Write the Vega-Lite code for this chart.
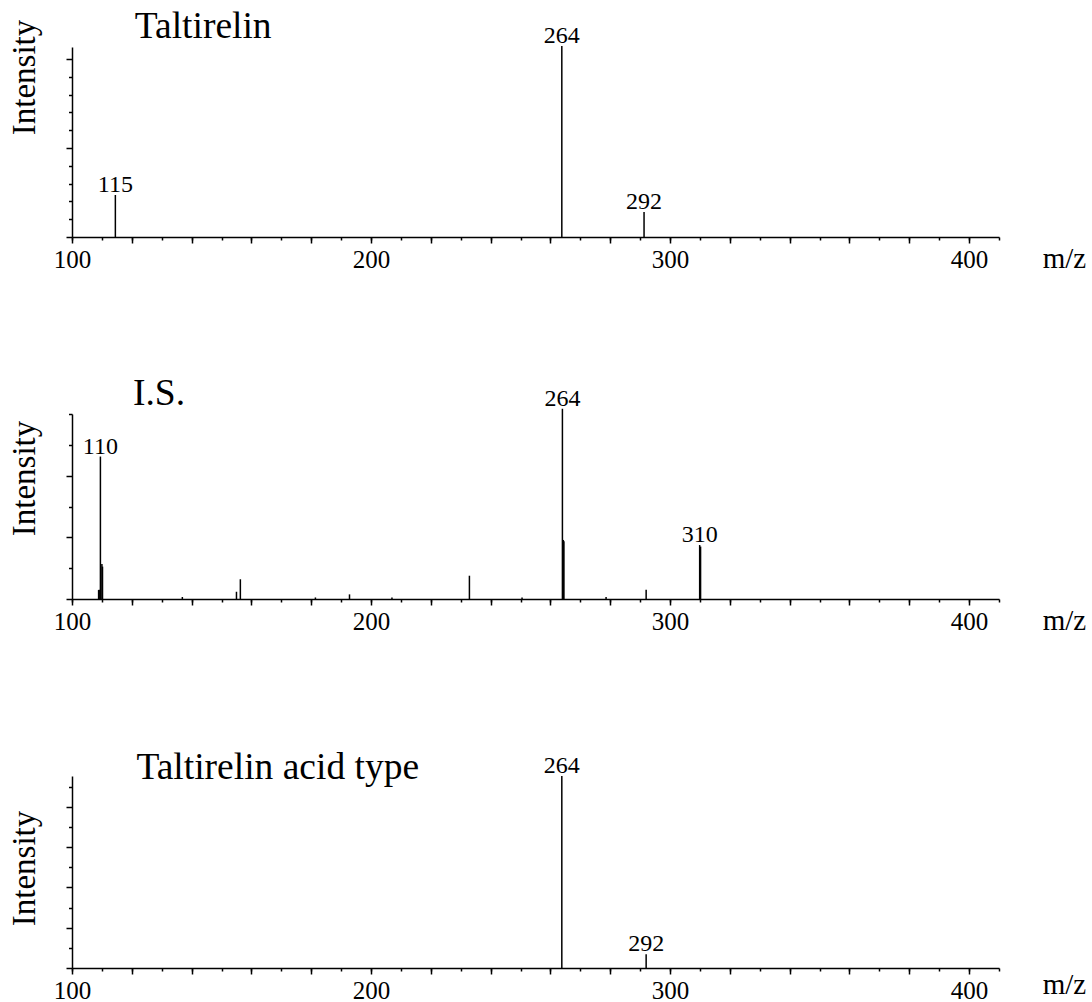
{
  "$schema": "https://vega.github.io/schema/vega-lite/v6.json",
  "background": "white",
  "padding": {"left": 8, "top": 8, "right": 0, "bottom": 0},
  "bounds": "flush",
  "spacing": 177,
  "datasets": {
    "peaks": [
      {"panel": "A", "mz": 114.5, "intensity": 23.6, "label": "115"},
      {"panel": "A", "mz": 263.8, "intensity": 107.3, "label": "264"},
      {"panel": "A", "mz": 291.3, "intensity": 14, "label": "292"},
      {"panel": "B", "mz": 108.9, "intensity": 5.8, "label": ""},
      {"panel": "B", "mz": 109.1, "intensity": 6, "label": ""},
      {"panel": "B", "mz": 109.5, "intensity": 92.4, "label": "110"},
      {"panel": "B", "mz": 110.0, "intensity": 22.7, "label": ""},
      {"panel": "B", "mz": 110.2, "intensity": 21, "label": ""},
      {"panel": "B", "mz": 136.9, "intensity": 1.3, "label": ""},
      {"panel": "B", "mz": 155.0, "intensity": 4.7, "label": ""},
      {"panel": "B", "mz": 156.3, "intensity": 12.8, "label": ""},
      {"panel": "B", "mz": 181.4, "intensity": 1, "label": ""},
      {"panel": "B", "mz": 192.8, "intensity": 3, "label": ""},
      {"panel": "B", "mz": 207.0, "intensity": 1, "label": ""},
      {"panel": "B", "mz": 232.9, "intensity": 15.1, "label": ""},
      {"panel": "B", "mz": 250.5, "intensity": 1, "label": ""},
      {"panel": "B", "mz": 264.0, "intensity": 123.4, "label": "264"},
      {"panel": "B", "mz": 264.3, "intensity": 38.3, "label": ""},
      {"panel": "B", "mz": 264.5, "intensity": 37.5, "label": ""},
      {"panel": "B", "mz": 278.6, "intensity": 1.3, "label": ""},
      {"panel": "B", "mz": 292.0, "intensity": 6, "label": ""},
      {"panel": "B", "mz": 309.9, "intensity": 35, "label": "310"},
      {"panel": "B", "mz": 310.2, "intensity": 34, "label": ""},
      {"panel": "C", "mz": 263.8, "intensity": 95.4, "label": "264"},
      {"panel": "C", "mz": 292.0, "intensity": 6.8, "label": "292"}
    ]
  },
  "config": {
    "view": {"stroke": null},
    "font": "Liberation Serif",
    "axis": {
      "domainColor": "black",
      "domainWidth": 1.5,
      "tickColor": "black",
      "tickWidth": 1.5,
      "grid": false,
      "labelFont": "Liberation Serif",
      "labelColor": "black",
      "titleFont": "Liberation Serif",
      "titleColor": "black",
      "titleFontWeight": "normal"
    },
    "text": {"font": "Liberation Serif", "fontSize": 24, "color": "black", "baseline": "alphabetic", "dy": -3}
  },
  "vconcat": [
    {
      "width": 927,
      "height": 190,
      "title": {"text": "Taltirelin", "anchor": "start", "frame": "group", "orient": "none", "dx": 62.7, "dy": -8.7, "baseline": "alphabetic", "fontSize": 37.5, "font": "Liberation Serif", "fontWeight": "normal", "color": "black"},
      "data": {"name": "peaks"},
      "transform": [{"filter": "datum.panel === 'A'"}],
      "resolve": {"axis": {"x": "independent", "y": "independent"}},
      "layer": [
        {
          "mark": {"type": "rule", "color": "black", "strokeWidth": 1.5},
          "encoding": {
            "x": {"field": "mz", "type": "quantitative", "scale": {"domain": [100, 410], "nice": false, "zero": false},
                  "axis": {"orient": "bottom", "values": [100,120,140,160,180,200,220,240,260,280,300,320,340,360,380,400], "labelExpr": "datum.value % 100 === 0 ? datum.label : ''", "tickSize": 6, "labelPadding": 4, "labelFontSize": 25, "labelFlush": false, "labelOverlap": false, "title": "m/z", "titleFontSize": 29, "titleX": 992, "titleY": 30, "titleAlign": "center", "titleBaseline": "alphabetic", "titleAnchor": null}},
            "y": {"field": "intensity", "type": "quantitative", "scale": {"domain": [0, 106.7], "nice": false},
                  "axis": {"orient": "left", "values": [0, 50, 100], "labels": false, "tickSize": 6, "title": "Intensity", "titleFontSize": 33, "titleAngle": -90, "titleX": -38, "titleY": 30, "titleAlign": "center", "titleBaseline": "alphabetic", "titleAnchor": null}},
            "y2": {"datum": 0}
          }
        },
        {
          "transform": [{"filter": "datum.label != ''"}],
          "mark": {"type": "text"},
          "encoding": {
            "x": {"field": "mz", "type": "quantitative", "scale": {"domain": [100, 410], "nice": false, "zero": false},
                  "axis": {"orient": "bottom", "values": [100,110,120,130,140,150,160,170,180,190,200,210,220,230,240,250,260,270,280,290,300,310,320,330,340,350,360,370,380,390,400,410], "labels": false, "domain": false, "tickSize": 3, "title": null}},
            "y": {"field": "intensity", "type": "quantitative", "scale": {"domain": [0, 106.7], "nice": false},
                  "axis": {"orient": "left", "values": [10,20,30,40,60,70,80,90], "labels": false, "domain": false, "tickSize": 3.5, "title": null}},
            "text": {"field": "label"}
          }
        }
      ]
    },
    {
      "width": 927,
      "height": 185,
      "title": {"text": "I.S.", "anchor": "start", "frame": "group", "orient": "none", "dx": 61, "dy": -9, "baseline": "alphabetic", "fontSize": 37.5, "font": "Liberation Serif", "fontWeight": "normal", "color": "black"},
      "data": {"name": "peaks"},
      "transform": [{"filter": "datum.panel === 'B'"}],
      "resolve": {"axis": {"x": "independent", "y": "independent"}},
      "layer": [
        {
          "mark": {"type": "rule", "color": "black", "strokeWidth": 1.5},
          "encoding": {
            "x": {"field": "mz", "type": "quantitative", "scale": {"domain": [100, 410], "nice": false, "zero": false},
                  "axis": {"orient": "bottom", "values": [100,120,140,160,180,200,220,240,260,280,300,320,340,360,380,400], "labelExpr": "datum.value % 100 === 0 ? datum.label : ''", "tickSize": 6, "labelPadding": 4, "labelFontSize": 25, "labelFlush": false, "labelOverlap": false, "title": "m/z", "titleFontSize": 29, "titleX": 992, "titleY": 30, "titleAlign": "center", "titleBaseline": "alphabetic", "titleAnchor": null}},
            "y": {"field": "intensity", "type": "quantitative", "scale": {"domain": [0, 120], "nice": false},
                  "axis": {"orient": "left", "values": [0, 40, 80], "labels": false, "tickSize": 6, "title": "Intensity", "titleFontSize": 33, "titleAngle": -90, "titleX": -38, "titleY": 64, "titleAlign": "center", "titleBaseline": "alphabetic", "titleAnchor": null}},
            "y2": {"datum": 0}
          }
        },
        {
          "transform": [{"filter": "datum.label != ''"}],
          "mark": {"type": "text"},
          "encoding": {
            "x": {"field": "mz", "type": "quantitative", "scale": {"domain": [100, 410], "nice": false, "zero": false},
                  "axis": {"orient": "bottom", "values": [100,110,120,130,140,150,160,170,180,190,200,210,220,230,240,250,260,270,280,290,300,310,320,330,340,350,360,370,380,390,400,410], "labels": false, "domain": false, "tickSize": 3, "title": null}},
            "y": {"field": "intensity", "type": "quantitative", "scale": {"domain": [0, 120], "nice": false},
                  "axis": {"orient": "left", "values": [20, 60, 100, 120], "labels": false, "domain": false, "tickSize": 3.5, "title": null}},
            "text": {"field": "label"}
          }
        }
      ]
    },
    {
      "width": 927,
      "height": 192,
      "title": {"text": "Taltirelin acid type", "anchor": "start", "frame": "group", "orient": "none", "dx": 64.4, "dy": 3, "baseline": "alphabetic", "fontSize": 37.5, "font": "Liberation Serif", "fontWeight": "normal", "color": "black"},
      "data": {"name": "peaks"},
      "transform": [{"filter": "datum.panel === 'C'"}],
      "resolve": {"axis": {"x": "independent", "y": "independent"}},
      "layer": [
        {
          "mark": {"type": "rule", "color": "black", "strokeWidth": 1.5},
          "encoding": {
            "x": {"field": "mz", "type": "quantitative", "scale": {"domain": [100, 410], "nice": false, "zero": false},
                  "axis": {"orient": "bottom", "values": [100,120,140,160,180,200,220,240,260,280,300,320,340,360,380,400], "labelExpr": "datum.value % 100 === 0 ? datum.label : ''", "tickSize": 6, "labelPadding": 4, "labelFontSize": 25, "labelFlush": false, "labelOverlap": false, "title": "m/z", "titleFontSize": 29, "titleX": 992, "titleY": 25, "titleAlign": "center", "titleBaseline": "alphabetic", "titleAnchor": null}},
            "y": {"field": "intensity", "type": "quantitative", "scale": {"domain": [0, 95.4], "nice": false},
                  "axis": {"orient": "left", "values": [0, 20, 40, 60, 80], "labels": false, "tickSize": 6, "title": "Intensity", "titleFontSize": 33, "titleAngle": -90, "titleX": -38, "titleY": 92, "titleAlign": "center", "titleBaseline": "alphabetic", "titleAnchor": null}},
            "y2": {"datum": 0}
          }
        },
        {
          "transform": [{"filter": "datum.label != ''"}],
          "mark": {"type": "text"},
          "encoding": {
            "x": {"field": "mz", "type": "quantitative", "scale": {"domain": [100, 410], "nice": false, "zero": false},
                  "axis": {"orient": "bottom", "values": [100,110,120,130,140,150,160,170,180,190,200,210,220,230,240,250,260,270,280,290,300,310,320,330,340,350,360,370,380,390,400,410], "labels": false, "domain": false, "tickSize": 3, "title": null}},
            "y": {"field": "intensity", "type": "quantitative", "scale": {"domain": [0, 95.4], "nice": false},
                  "axis": {"orient": "left", "values": [10, 30, 50, 70, 90], "labels": false, "domain": false, "tickSize": 3.5, "title": null}},
            "text": {"field": "label"}
          }
        }
      ]
    }
  ]
}
